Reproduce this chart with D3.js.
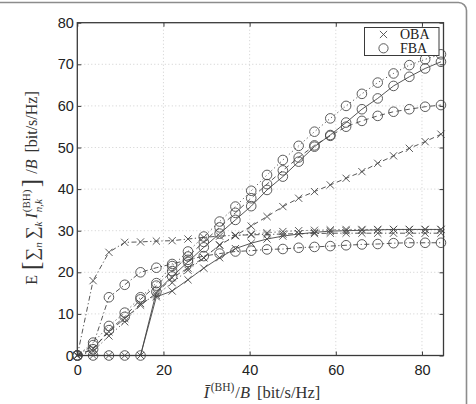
<!DOCTYPE html>
<html><head><meta charset="utf-8">
<script src="https://cdn.jsdelivr.net/npm/d3@7"></script>
<style>body{margin:0;background:#fff}</style>
</head><body><svg id="c" width="476" height="404"></svg>
<script>
// ---------- data ----------
const xVals = [0, 3.67, 7.34, 11.01, 14.68, 18.35, 22.02, 25.69, 29.36, 33.03, 36.7, 40.37,
               44.04, 47.71, 51.38, 55.05, 58.72, 62.39, 66.06, 69.73, 73.4, 77.07, 80.74, 84.41];
const xTicks = [0, 20, 40, 60, 80];
const yTicks = [0, 10, 20, 30, 40, 50, 60, 70, 80];

const fbaDotted  = [0, 3.1, 7.1, 10.3, 14.0, 17.4, 21.5, 25.0, 28.6, 32.2, 35.8, 39.6, 43.4, 47.0, 50.4, 53.8, 57.0, 60.0, 62.9, 65.6, 67.8, 69.8, 71.2, 72.4];
const fbaSolid   = [0, 0, 0, 0, 0, 15.3, 19.0, 22.5, 26.0, 29.3, 32.6, 35.9, 39.8, 43.0, 46.6, 50.2, 53.0, 56.0, 59.2, 61.8, 64.8, 67.0, 69.0, 70.6];
const fbaDashed  = [0, 1.5, 6.1, 9.3, 13.5, 16.8, 20.3, 23.8, 27.3, 30.8, 34.3, 37.8, 41.2, 44.5, 47.6, 50.5, 52.8, 55.0, 56.4, 57.6, 58.6, 59.2, 59.8, 60.2];
const fbaDashDot = [0, 2.5, 14.0, 17.0, 20.0, 21.1, 22.0, 23.0, 23.9, 24.5, 25.0, 25.2, 25.5, 25.6, 25.9, 26.1, 26.3, 26.5, 26.7, 26.8, 27.0, 27.1, 27.1, 27.1];
const obaSolid   = [0, 0, 0, 0, 0, 14.1, 15.5, 18.2, 21.0, 23.5, 25.7, 27.0, 28.0, 28.7, 29.2, 29.6, 29.9, 30.0, 30.1, 30.2, 30.3, 30.3, 30.3, 30.3];
const obaDashed  = [0, 1.7, 5.7, 8.9, 12.1, 15.0, 18.7, 21.0, 23.5, 26.5, 28.8, 31.1, 33.4, 35.8, 37.8, 39.4, 41.0, 42.6, 44.2, 46.2, 48.0, 49.8, 51.4, 53.2];
const obaDashDot = [0, 18.0, 24.8, 27.2, 27.3, 27.5, 27.6, 28.0, 28.4, 28.7, 28.9, 29.0, 29.1, 29.2, 29.3, 29.3, 29.4, 29.4, 29.4, 29.4, 29.4, 29.4, 29.4, 29.4];
const obaDotted  = [0, 1.0, 4.7, 8.1, 12.5, 14.5, 17.5, 20.5, 23.5, 26.6, 28.8, 29.2, 29.5, 29.8, 30.0, 30.1, 30.2, 30.3, 30.3, 30.3, 30.3, 30.3, 30.3, 30.3];

const legendLabels = ["OBA", "FBA"];

// ---------- setup ----------
const svg = d3.select("#c");
const L = 77.3, R = 443.5, T = 22.7, B = 355.5;
const x = d3.scaleLinear().domain([0, 85]).range([L, R]);
const y = d3.scaleLinear().domain([0, 80]).range([B, T]);
const ink = "#3a3a3a";

// outer rounded frame
svg.append("rect").attr("x", -10).attr("y", 2.5).attr("width", 476.5).attr("height", 430)
  .attr("rx", 8).attr("fill", "none").attr("stroke", "#8c8c8c").attr("stroke-width", 1.6);

// grid
const grid = svg.append("g").attr("stroke", "#c4c4c4").attr("stroke-width", 0.8).attr("stroke-dasharray", "1,2.5");
grid.selectAll(".gx").data(xTicks.filter(d => d > 0)).join("line")
  .attr("x1", d => x(d)).attr("x2", d => x(d)).attr("y1", T).attr("y2", B);
grid.selectAll(".gy").data(yTicks.filter(d => d > 0 && d < 80)).join("line")
  .attr("y1", d => y(d)).attr("y2", d => y(d)).attr("x1", L).attr("x2", R);

// axes
const tickFont = g => g.selectAll("text").style("font-family", '"Liberation Sans", Arial, sans-serif')
  .style("font-size", "14.5px").attr("fill", "#222");
const axB = svg.append("g").attr("transform", `translate(0,${B})`)
  .call(d3.axisBottom(x).tickValues(xTicks).tickSizeInner(-4).tickSizeOuter(0).tickPadding(9.5));
const axL = svg.append("g").attr("transform", `translate(${L},0)`)
  .call(d3.axisLeft(y).tickValues(yTicks).tickSizeInner(-4).tickSizeOuter(0).tickPadding(3.5));
const axT = svg.append("g").attr("transform", `translate(0,${T})`)
  .call(d3.axisTop(x).tickValues(xTicks).tickSizeInner(-4).tickSizeOuter(0).tickFormat(""));
const axR = svg.append("g").attr("transform", `translate(${R},0)`)
  .call(d3.axisRight(y).tickValues(yTicks).tickSizeInner(-4).tickSizeOuter(0).tickFormat(""));
[axB, axL, axT, axR].forEach(a => { a.select(".domain").remove(); a.selectAll("line").attr("stroke", ink); tickFont(a); });

// series
const series = [
  {v: fbaDotted,  m: "o", dash: "1.2,2.8"},
  {v: fbaDashed,  m: "o", dash: "5,3.5"},
  {v: fbaDashDot, m: "o", dash: "5,2.5,1.2,2.5"},
  {v: fbaSolid,   m: "o", dash: null},
  {v: obaDotted,  m: "x", dash: "1.2,2.8"},
  {v: obaDashed,  m: "x", dash: "5,3.5"},
  {v: obaDashDot, m: "x", dash: "5,2.5,1.2,2.5"},
  {v: obaSolid,   m: "x", dash: null}
];
const line = d3.line().x(d => x(d[0])).y(d => y(d[1]));
const plot = svg.append("g");
series.forEach(s => {
  const pts = xVals.map((xv, i) => [xv, s.v[i]]);
  plot.append("path").attr("d", line(pts)).attr("fill", "none").attr("stroke", "#444")
    .attr("stroke-width", 0.9).attr("stroke-dasharray", s.dash);
});
const xPath = "M-3.6,-3.6L3.6,3.6M-3.6,3.6L3.6,-3.6";
series.forEach(s => {
  const pts = xVals.map((xv, i) => [xv, s.v[i]]);
  const g = plot.append("g");
  if (s.m === "o") {
    g.selectAll("circle").data(pts).join("circle").attr("cx", d => x(d[0])).attr("cy", d => y(d[1]))
      .attr("r", 4.8).attr("fill", "none").attr("stroke", "#4a4a4a").attr("stroke-width", 0.9);
  } else {
    g.selectAll("path").data(pts).join("path").attr("transform", d => `translate(${x(d[0])},${y(d[1])})`)
      .attr("d", xPath).attr("fill", "none").attr("stroke", "#4a4a4a").attr("stroke-width", 0.9);
  }
});

// frame box
svg.append("rect").attr("x", L).attr("y", T).attr("width", R - L).attr("height", B - T)
  .attr("fill", "none").attr("stroke", ink).attr("stroke-width", 1.3);

// legend
const lg = svg.append("g");
lg.append("rect").attr("x", 364.5).attr("y", 27.5).attr("width", 74.5).attr("height", 28)
  .attr("fill", "#fff").attr("stroke", ink).attr("stroke-width", 1);
lg.append("path").attr("transform", "translate(383.5,34.5)").attr("d", xPath).attr("fill", "none").attr("stroke", "#4a4a4a").attr("stroke-width", 0.9);
lg.append("circle").attr("cx", 383.5).attr("cy", 48.3).attr("r", 4.6).attr("fill", "none").attr("stroke", "#4a4a4a").attr("stroke-width", 0.9);
legendLabels.forEach((t, i) => {
  lg.append("text").attr("x", 400).attr("y", 39.3 + i * 14).text(t)
    .style("font-family", '"Liberation Serif", serif').style("font-size", "14px").attr("fill", "#222");
});

// rich text helper
function rich(parent, pieces) {
  let prev = 0;
  pieces.forEach(p => {
    const [txt, size, ital, shift, dx] = p;
    parent.append("tspan").text(txt).style("font-size", size + "px")
      .style("font-style", ital ? "italic" : "normal")
      .attr("dy", shift - prev).attr("dx", dx || 0);
    prev = shift;
  });
}

// x label
const xl = svg.append("text").attr("x", 262).attr("y", 398).attr("text-anchor", "middle")
  .style("font-family", '"Liberation Serif", serif').attr("fill", "#333");
rich(xl, [
  ["\u012A", 16.5, true, 0, 0],
  ["(BH)", 11.5, false, -7, 1.5],
  ["/", 16.5, false, 0, 1],
  ["B", 16.5, true, 0, 0],
  ["[bit/s/Hz]", 16.5, false, 0, 7]
]);

// y label
const yl = svg.append("text").attr("transform", "translate(37,188) rotate(-90)").attr("text-anchor", "middle")
  .style("font-family", '"Liberation Serif", serif').attr("fill", "#333");
rich(yl, [
  ["E", 16, false, 0, 0],
  ["[", 25, false, 2, 5],
  ["\u2211", 18, false, 1, 1],
  ["n", 11, true, 5, 0],
  ["\u2211", 18, false, 1, 3],
  ["k", 11, true, 5, 0],
  ["I", 16, true, 0, 3],
  ["(BH)", 11, false, -7, 1],
  ["n,k", 11, true, 5, -22.6],
  ["]", 25, false, 2, 12],
  ["/", 16, false, 0, 5],
  ["B", 16, true, 0, 0],
  ["[bit/s/Hz]", 16, false, 0, 7]
]);
</script>
</body></html>
